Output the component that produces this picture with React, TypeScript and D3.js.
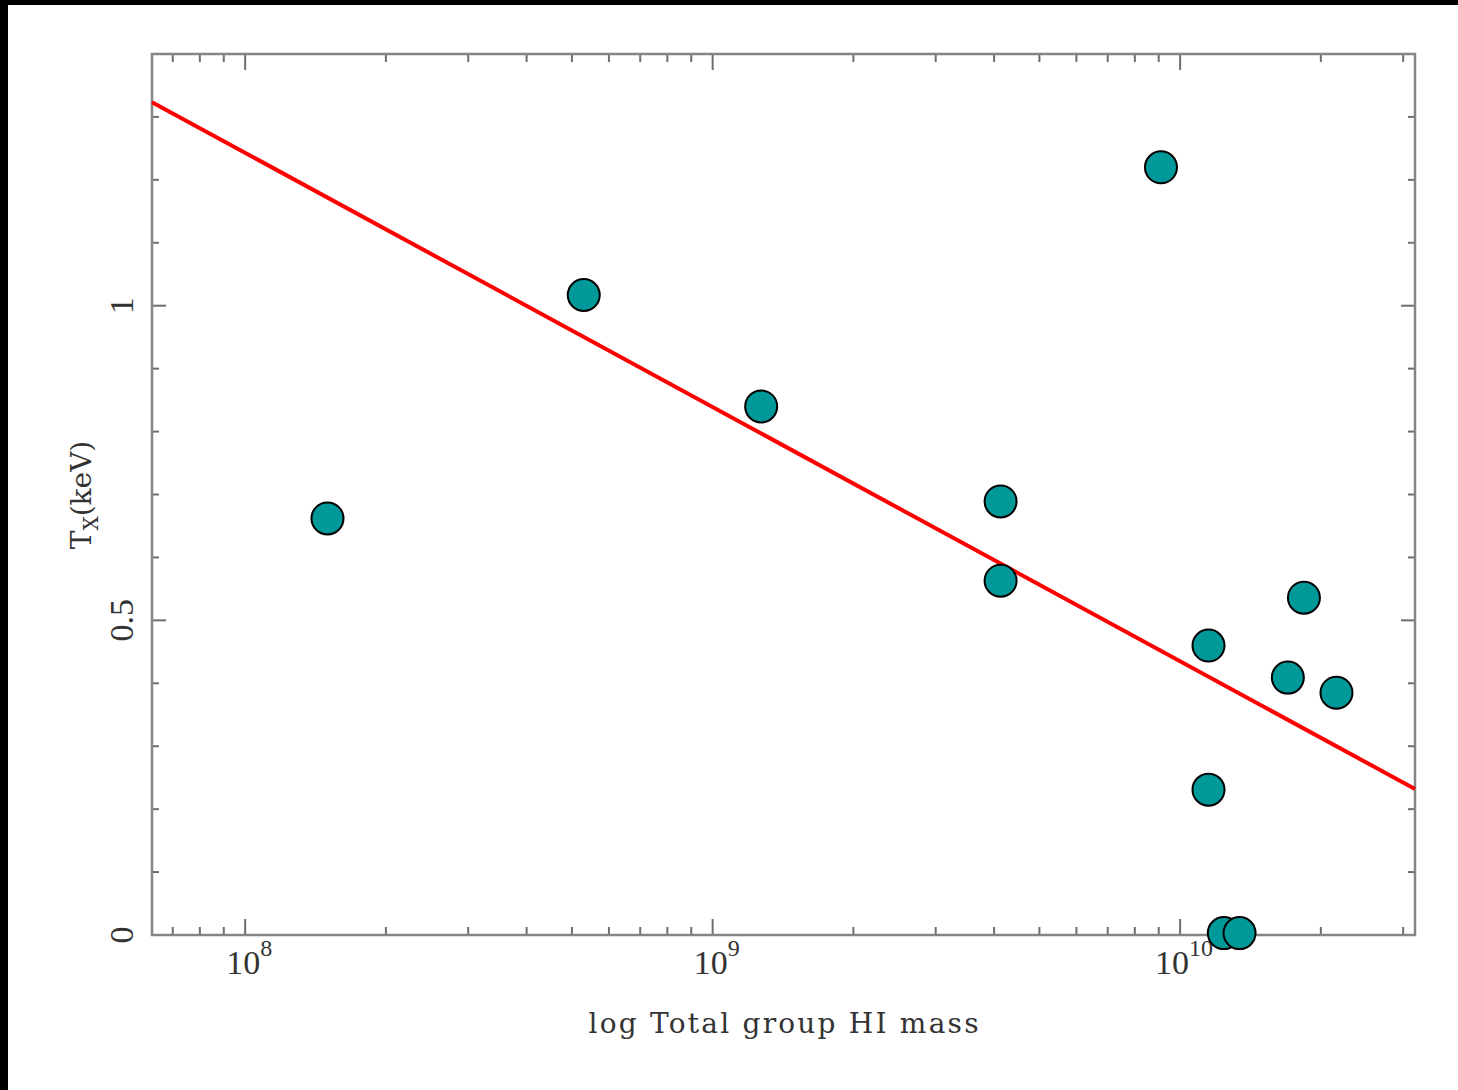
//@ts-nocheck
import * as d3 from "d3";
import React, { useEffect, useRef } from "react";

// total group HI mass (solar masses) vs X-ray temperature
const hiMass = [
  1.5e8, 5.3e8, 1.27e9, 4.13e9, 4.13e9, 9.1e9, 1.15e10, 1.15e10, 1.84e10,
  1.7e10, 2.16e10, 1.24e10, 1.34e10,
];
const tx = [
  0.662, 1.017, 0.84, 0.689, 0.563, 1.22, 0.46, 0.231, 0.536, 0.409, 0.385,
  0.003, 0.003,
];

// linear fit: Tx = a + b * log10(M)
const fitIntercept = 4.475;
const fitSlope = -0.404;

const xDomain = [6.32e7, 3.18e10];
const yDomain = [0, 1.4];
const xMajor = [1e8, 1e9, 1e10];
const xExponents = ["8", "9", "10"];
const yMajor = [0, 0.5, 1];
const yMajorLabels = ["0", "0.5", "1"];

const width = 1458;
const height = 1090;
const margin = { top: 54, right: 43, bottom: 155, left: 152 };
const font = "'Liberation Serif', 'DejaVu Serif', serif";
const titleFont = "'DejaVu Serif', 'Liberation Serif', serif";
const axisColor = "#858585";
const textColor = "#333";

const chart = (svgEl) => {
  const svg = d3.select(svgEl);
  svg.selectAll("*").remove();

  const x = d3
    .scaleLog()
    .domain(xDomain)
    .range([margin.left, width - margin.right]);
  const y = d3
    .scaleLinear()
    .domain(yDomain)
    .range([height - margin.bottom, margin.top]);

  const [x0, x1] = x.range();
  const [y0, y1] = y.range();

  svg.append("rect").attr("width", width).attr("height", height).attr("fill", "#fff");
  // black scan border on top and left
  svg.append("rect").attr("width", width).attr("height", 5).attr("fill", "#000");
  svg.append("rect").attr("width", 8).attr("height", height).attr("fill", "#000");

  const ticks = svg.append("g").attr("stroke", "#6e6e6e").attr("stroke-width", 2);

  // x ticks on bottom and top
  const xTicks = x.ticks().filter((t) => t >= xDomain[0] && t <= xDomain[1]);
  xTicks.forEach((t) => {
    const major = xMajor.some((m) => Math.abs(m - t) / m < 1e-6);
    const len = major ? 16 : 8;
    ticks.append("line").attr("x1", x(t)).attr("x2", x(t)).attr("y1", y0).attr("y2", y0 - len);
    ticks.append("line").attr("x1", x(t)).attr("x2", x(t)).attr("y1", y1).attr("y2", y1 + len);
  });

  // y ticks on left and right
  const yTicks = y.ticks(14);
  yTicks.forEach((t) => {
    const major = yMajor.some((m) => Math.abs(m - t) < 1e-6);
    const len = major ? 14 : 7;
    ticks.append("line").attr("x1", x0).attr("x2", x0 + len).attr("y1", y(t)).attr("y2", y(t));
    ticks.append("line").attr("x1", x1).attr("x2", x1 - len).attr("y1", y(t)).attr("y2", y(t));
  });

  svg
    .append("rect")
    .attr("x", x0)
    .attr("y", y1)
    .attr("width", x1 - x0)
    .attr("height", y0 - y1)
    .attr("fill", "none")
    .attr("stroke", axisColor)
    .attr("stroke-width", 2.5);

  // x tick labels 10^n
  const xl = svg
    .append("g")
    .attr("font-family", font)
    .attr("fill", textColor);
  xMajor.forEach((m, i) => {
    const t = xl
      .append("text")
      .attr("x", x(m) + 4)
      .attr("y", 974)
      .attr("text-anchor", "middle")
      .attr("font-size", 34);
    t.append("tspan").text("10");
    t.append("tspan").attr("dy", -18).attr("font-size", 24).text(xExponents[i]);
  });

  // y tick labels, rotated
  yMajor.forEach((m, i) => {
    svg
      .append("text")
      .attr("transform", `translate(133,${y(m)}) rotate(-90)`)
      .attr("text-anchor", "middle")
      .attr("font-family", font)
      .attr("font-size", 34)
      .attr("fill", textColor)
      .text(yMajorLabels[i]);
  });

  // axis titles
  svg
    .append("text")
    .attr("x", (x0 + x1) / 2)
    .attr("y", 1033)
    .attr("text-anchor", "middle")
    .attr("font-family", titleFont)
    .attr("font-size", 28)
    .attr("fill", textColor)
    .attr("textLength", 390)
    .attr("lengthAdjust", "spacing")
    .text("log Total group HI mass");

  const yt = svg
    .append("text")
    .attr("transform", "translate(91,495) rotate(-90)")
    .attr("text-anchor", "middle")
    .attr("font-family", titleFont)
    .attr("font-size", 28)
    .attr("fill", textColor);
  yt.append("tspan").text("T");
  yt.append("tspan").attr("dy", 7).attr("font-size", 20).text("X");
  yt.append("tspan").attr("dy", -7).text("(keV)");

  // regression line across full x range
  const fit = (m) => fitIntercept + fitSlope * Math.log10(m);
  const line = d3
    .line()
    .x((d) => x(d))
    .y((d) => y(fit(d)));
  svg
    .append("path")
    .attr("d", line(xDomain))
    .attr("fill", "none")
    .attr("stroke", "#ff0000")
    .attr("stroke-width", 4);

  // points
  svg
    .append("g")
    .selectAll("circle")
    .data(d3.range(hiMass.length))
    .join("circle")
    .attr("cx", (i) => x(hiMass[i]))
    .attr("cy", (i) => y(tx[i]))
    .attr("r", 16)
    .attr("fill", "#009999")
    .attr("stroke", "#000")
    .attr("stroke-width", 2);
};

export default function App() {
  const svgRef = useRef(null);

  useEffect(() => {
    if (svgRef.current) chart(svgRef.current);
  }, []);

  return (
    <svg
      ref={svgRef}
      width={width}
      height={height}
      style={{ position: "absolute", left: 0, top: 0, display: "block" }}
    />
  );
}
